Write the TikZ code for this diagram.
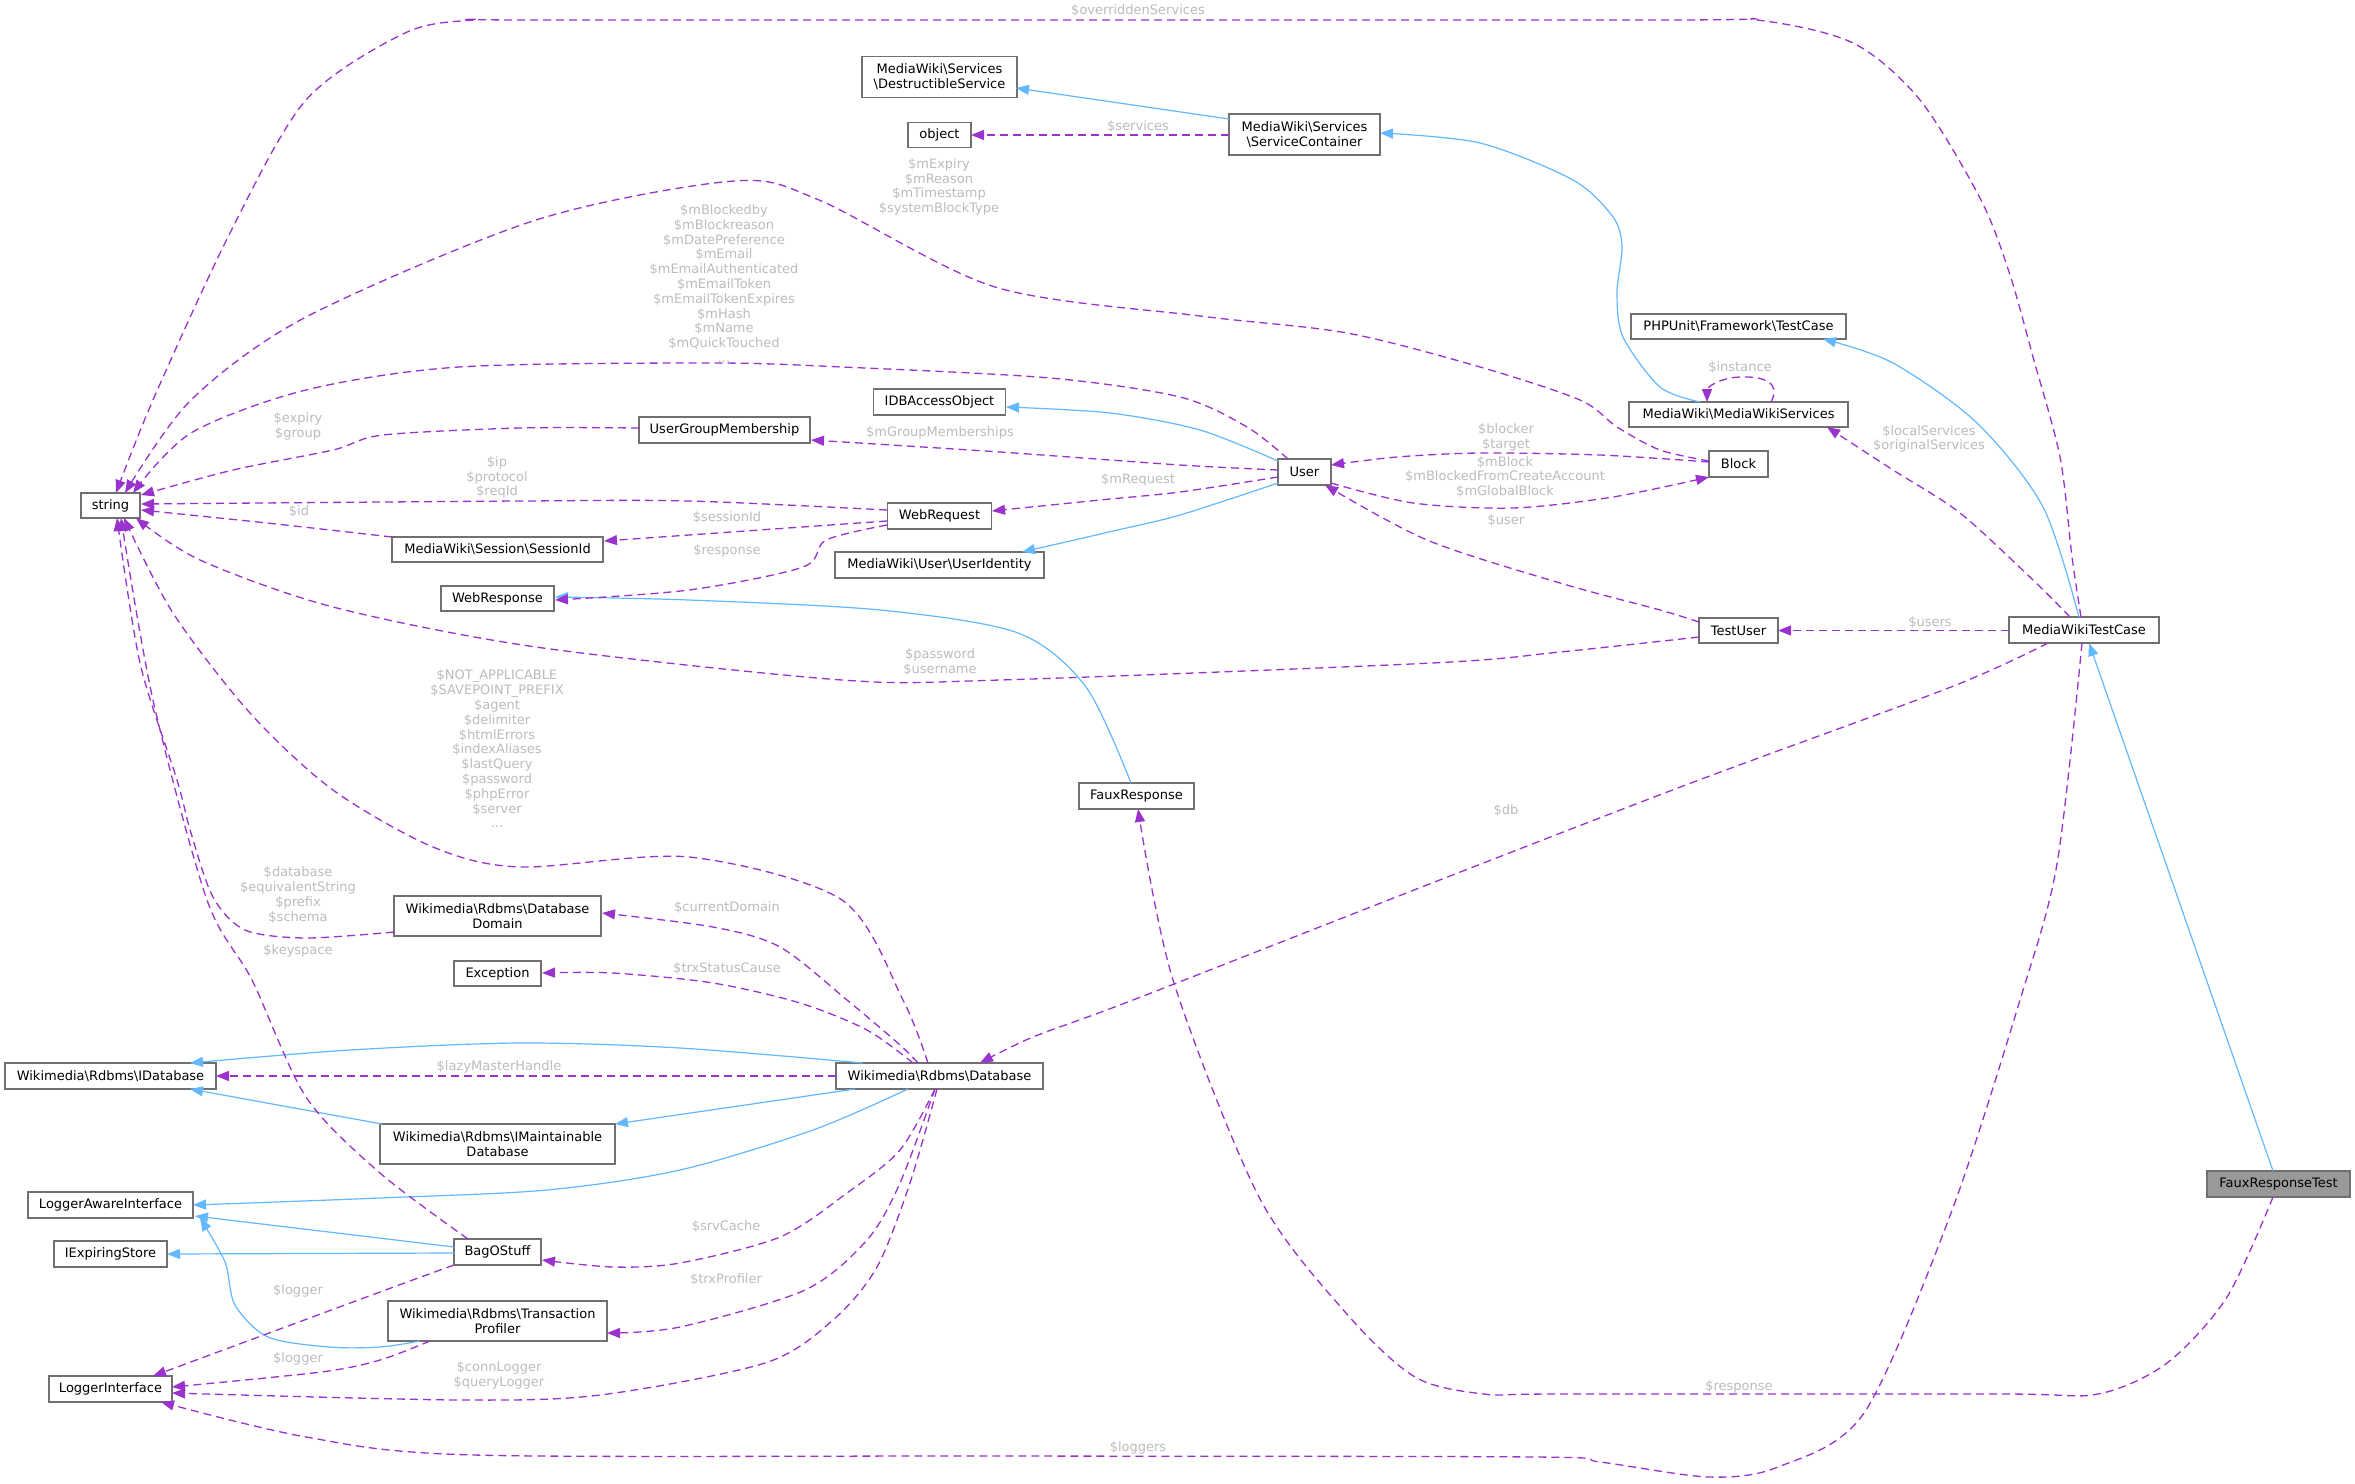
\documentclass[tikz,border=0pt]{standalone}
\usepackage{fontspec}
\setmainfont{DejaVu Sans}
\usetikzlibrary{arrows.meta,calc}
\definecolor{inhblue}{HTML}{63B8FF}
\definecolor{usepurple}{HTML}{9A32CD}
\definecolor{lblgray}{HTML}{BCBCBC}
\definecolor{nodeborder}{HTML}{707070}
\definecolor{frtfill}{HTML}{999999}
\newcommand{\nfont}{\fontsize{13}{14.8}\selectfont}
\newcommand{\bsl}{\textbackslash{}}
\begin{document}
\begin{tikzpicture}[x=1pt,y=-1pt,
  cls/.style={draw=nodeborder, line width=1.3pt, fill=white, inner sep=1pt, align=center, font=\nfont, text=black},
  inh/.style={draw=inhblue, line width=1.2pt, -{Triangle[length=13pt,width=10pt]}},
  usg/.style={draw=usepurple, line width=1.3pt, dash pattern=on 8pt off 5pt, -{Triangle[length=13pt,width=10pt]}},
  lbl/.style={text=lblgray, font=\nfont, align=center, inner sep=0pt}]
\useasboundingbox[fill=white] (0,0) rectangle (2355,1483);

% nodes
\node[cls,minimum width=59pt,minimum height=25pt] (string) at (110.5,505.5) {string};
\node[cls,minimum width=155pt,minimum height=41pt] (destr) at (939.5,77) {MediaWiki\bsl Services\\\bsl DestructibleService};
\node[cls,minimum width=63pt,minimum height=25pt] (object) at (939.5,135) {object};
\node[cls,minimum width=151pt,minimum height=41pt] (sc) at (1304.5,134.5) {MediaWiki\bsl Services\\\bsl ServiceContainer};
\node[cls,minimum width=215pt,minimum height=25pt] (phpunit) at (1738.5,326.5) {PHPUnit\bsl Framework\bsl TestCase};
\node[cls,minimum width=219pt,minimum height=25pt] (mws) at (1738.5,414.5) {MediaWiki\bsl MediaWikiServices};
\node[cls,minimum width=59pt,minimum height=26pt] (block) at (1738.5,464) {Block};
\node[cls,minimum width=53pt,minimum height=26pt] (user) at (1304.5,472) {User};
\node[cls,minimum width=132pt,minimum height=26pt] (idb) at (939.5,402) {IDBAccessObject};
\node[cls,minimum width=171pt,minimum height=26pt] (ugm) at (724.5,430) {UserGroupMembership};
\node[cls,minimum width=104pt,minimum height=26pt] (webreq) at (939.5,516) {WebRequest};
\node[cls,minimum width=211pt,minimum height=25pt] (sessid) at (497.5,549.5) {MediaWiki\bsl Session\bsl SessionId};
\node[cls,minimum width=209pt,minimum height=26pt] (uident) at (939.5,565) {MediaWiki\bsl User\bsl UserIdentity};
\node[cls,minimum width=113pt,minimum height=25pt] (webresp) at (497.5,598.5) {WebResponse};
\node[cls,minimum width=79pt,minimum height=25pt] (testuser) at (1738.5,630.5) {TestUser};
\node[cls,minimum width=150pt,minimum height=26pt] (mwtc) at (2084,630) {MediaWikiTestCase};
\node[cls,minimum width=115pt,minimum height=26pt] (fauxresp) at (1136.5,796) {FauxResponse};
\node[cls,minimum width=207pt,minimum height=40pt] (dbdomain) at (497.5,916) {Wikimedia\bsl Rdbms\bsl Database\\Domain};
\node[cls,minimum width=87pt,minimum height=25pt] (exception) at (497.5,973.5) {Exception};
\node[cls,minimum width=211pt,minimum height=26pt] (idatabase) at (110.5,1076) {Wikimedia\bsl Rdbms\bsl IDatabase};
\node[cls,minimum width=207pt,minimum height=26pt] (database) at (939.5,1076) {Wikimedia\bsl Rdbms\bsl Database};
\node[cls,minimum width=235pt,minimum height=40pt] (imaint) at (497.5,1144) {Wikimedia\bsl Rdbms\bsl IMaintainable\\Database};
\node[cls,minimum width=165pt,minimum height=26pt] (lai) at (110.5,1205) {LoggerAwareInterface};
\node[cls,minimum width=113pt,minimum height=26pt] (iexp) at (110.5,1254) {IExpiringStore};
\node[cls,minimum width=87pt,minimum height=26pt] (bag) at (497.5,1252) {BagOStuff};
\node[cls,minimum width=219pt,minimum height=40pt] (tp) at (497.5,1321) {Wikimedia\bsl Rdbms\bsl Transaction\\Profiler};
\node[cls,minimum width=123pt,minimum height=26pt] (logi) at (110.5,1389) {LoggerInterface};
\node[cls,fill=frtfill,minimum width=143pt,minimum height=26pt] (frt) at (2278.5,1184) {FauxResponseTest};

% inheritance
\draw[inh] ($(sc)+(-75.5,-15.5)$) -- ($(destr)+(76.5,11)$);
\draw[inh] plot[smooth] coordinates {($(mws)+(-38.5,-12.5)$) (1660,387) (1623,337) (1617,293) (1622,247) (1613,217) (1573,180) (1480,143) ($(sc)+(75.5,-1.5)$)};
\draw[inh] plot[smooth] coordinates {($(mwtc)+(-5,-13)$) (2043,507) (1977,423) (1893,363) ($(phpunit)+(84.5,12.5)$)};
\draw[inh] plot[smooth] coordinates {($(user)+(-26.5,-11)$) (1200,430) (1110,413) ($(idb)+(66.5,5)$)};
\draw[inh] plot[smooth] coordinates {($(user)+(-26.5,11)$) (1180,515) (1109,532) ($(uident)+(82.5,-13)$)};
\draw[inh] plot[smooth] coordinates {($(fauxresp)+(-5.5,-13)$) (1086,687) (1018,633) (880,610) (689,600) ($(webresp)+(57.5,-1.5)$)};
\draw[inh] ($(frt)+(-5.5,-13)$) -- ($(mwtc)+(5,13)$);
\draw[inh] plot[smooth] coordinates {($(database)+(-76.5,-13)$) (680,1048) (520,1043) (350,1050) ($(idatabase)+(79.5,-13)$)};
\draw[inh] ($(imaint)+(-115.5,-20)$) -- ($(idatabase)+(79.5,13)$);
\draw[inh] ($(database)+(-84.5,13)$) -- ($(imaint)+(117.5,-20)$);
\draw[inh] plot[smooth] coordinates {($(database)+(-31.5,13)$) (813,1130) (680,1170) (547,1190) (380,1198) ($(lai)+(82.5,0)$)};
\draw[inh] ($(bag)+(-43.5,-5)$) -- ($(lai)+(84.5,11)$);
\draw[inh] ($(bag)+(-43.5,1)$) -- ($(iexp)+(56.5,0)$);
\draw[inh] plot[smooth] coordinates {($(tp)+(-77.5,20)$) (380,1347) (329,1347) (268,1337) (235,1305) (225,1262) ($(lai)+(89.5,13)$)};

% usage
\draw[usg] plot[smooth] coordinates {($(mwtc)+(-3,-13)$) (2072,557) (2060,457) (2033,357) (2010,275) (1981,200) (1920,100) (1853,43) (1757,20) (1650,20) (560,20) (474,20) (405,33) (306,100) (230,233) (153,400) ($(string)+(5.5,-12.5)$)};
\draw[usg] ($(sc)+(-75.5,0.5)$) -- ($(object)+(31.5,0)$);
\draw[usg] plot[smooth] coordinates {($(block)+(-29.5,-3)$) (1660,450) (1617,427) (1580,400) (1480,367) (1347,333) (1200,316) (995,287) (819,200) (734,181) (536,220) (306,317) (191,400) ($(string)+(14.5,-12.5)$)};
\draw[usg] plot[smooth] coordinates {($(user)+(-16.5,-13)$) (1247,427) (1180,397) (1050,378) (842,367) (711,363) (459,367) (306,390) (191,433) ($(string)+(22.5,-12.5)$)};
\draw[usg] plot[smooth] coordinates {($(ugm)+(-85.5,-2)$) (520,428) (383,435) (333,450) (233,470) ($(string)+(30.5,-10.5)$)};
\draw[usg] plot[smooth] coordinates {($(user)+(-26.5,-2)$) (1180,465) (1000,452) ($(ugm)+(86.5,10)$)};
\draw[usg] plot[smooth] coordinates {($(user)+(-26.5,5)$) (1180,492) (1100,500) ($(webreq)+(52.5,-5)$)};
\draw[usg] plot[smooth] coordinates {($(webreq)+(-52.5,-6)$) (689,501) (520,501) ($(string)+(30.5,-1.5)$)};
\draw[usg] plot[smooth] coordinates {($(sessid)+(-105.5,-12.5)$) (267,523) ($(string)+(30.5,4.5)$)};
\draw[usg] ($(webreq)+(-52.5,5)$) -- ($(sessid)+(106.5,-8.5)$);
\draw[usg] plot[smooth] coordinates {($(webreq)+(-52.5,9)$) (826,540) (803,567) (689,590) ($(webresp)+(57.5,1.5)$)};
\draw[usg] plot[smooth] coordinates {($(block)+(-29.5,-2)$) (1600,455) (1480,453) (1397,457) ($(user)+(26.5,-7)$)};
\draw[usg] plot[smooth] coordinates {($(user)+(26.5,11)$) (1413,503) (1513,508) (1613,497) ($(block)+(-29.5,13)$)};
\draw[usg] plot[smooth] coordinates {($(testuser)+(-39.5,-8.5)$) (1660,610) (1560,583) (1427,540) ($(user)+(20.5,13)$)};
\draw[usg] plot[smooth] coordinates {($(testuser)+(-39.5,6.5)$) (1560,652) (1432,663) (1000,680) (842,680) (536,647) (333,607) (200,560) ($(string)+(25.5,12.5)$)};
\draw[usg] ($(mwtc)+(-75,0.5)$) -- ($(testuser)+(39.5,0)$);
\draw[usg] plot[smooth] coordinates {($(mwtc)+(-14,-13)$) (2033,580) (1960,513) (1893,470) ($(mws)+(88.5,12.5)$)};
\draw[usg] ($(mws)+(32.5,-12.5)$) .. controls (1782,382) and (1762,376) .. (1740,377) .. controls (1718,378) and (1707,388) .. ($(mws)+(-31.5,-12.5)$);
\draw[usg] plot[smooth] coordinates {($(mwtc)+(-36,13)$) (1951,687) (1691,783) (1432,883) (1133,1000) (1033,1037) ($(database)+(40.5,-13)$)};
\draw[usg] plot[smooth] coordinates {($(mwtc)+(-2,13)$) (2057,864) (2020,1000) (1951,1213) (1864,1413) (1778,1467) (1709,1477) (1600,1462) (1536,1457) (1000,1456) (474,1455) (306,1437) ($(logi)+(50.5,13)$)};
\draw[usg] plot[smooth] coordinates {($(frt)+(-5.5,13)$) (2227,1297) (2167,1363) (2098,1394) (2000,1394) (1560,1394) (1484,1394) (1415,1377) (1346,1313) (1259,1197) (1173,980) ($(fauxresp)+(1.5,13)$)};
\draw[usg] plot[smooth] coordinates {($(database)+(-11.5,-13)$) (903,1000) (842,900) (689,857) (520,867) (433,847) (333,790) (250,713) (173,613) ($(string)+(13.5,12.5)$)};
\draw[usg] plot[smooth] coordinates {($(database)+(-21.5,-13)$) (900,1045) (847,1000) (780,947) (713,927) ($(dbdomain)+(104.5,-3)$)};
\draw[usg] plot[smooth] coordinates {($(database)+(-26.5,-13)$) (867,1030) (800,1003) (713,983) (613,973) ($(exception)+(44.5,-0.5)$)};
\draw[usg] plot[smooth] coordinates {($(dbdomain)+(-103.5,16)$) (306,938) (245,930) (213,897) (191,833) (177,780) (140,663) ($(string)+(6.5,12.5)$)};
\draw[usg] plot[smooth] coordinates {($(bag)+(-29.5,-13)$) (380,1173) (306,1097) (252,980) (207,900) (153,700) ($(string)+(10.5,12.5)$)};
\draw[usg] ($(database)+(-103.5,0)$) -- ($(idatabase)+(105.5,0)$);
\draw[usg] plot[smooth] coordinates {($(database)+(-4.5,13)$) (900,1150) (847,1193) (780,1237) (680,1263) (613,1267) ($(bag)+(44.5,8)$)};
\draw[usg] plot[smooth] coordinates {($(database)+(-4.5,13)$) (900,1183) (867,1240) (805,1290) (680,1327) ($(tp)+(109.5,12)$)};
\draw[usg] plot[smooth] coordinates {($(database)+(-2.5,13)$) (910,1183) (877,1267) (833,1320) (765,1363) (600,1395) (459,1400) ($(logi)+(61.5,4)$)};
\draw[usg] plot[smooth] coordinates {($(bag)+(-43.5,13)$) (380,1292) ($(logi)+(42.5,-13)$)};
\draw[usg] plot[smooth] coordinates {($(tp)+(-67.5,20)$) (380,1360) (321,1372) ($(logi)+(61.5,-2)$)};

% labels
\node[lbl] (l01) at (1138,11) {\$overriddenServices};
\node[lbl] (l02) at (1138,127) {\$services};
\node[lbl] (l03) at (939,187) {\$mExpiry\\\$mReason\\\$mTimestamp\\\$systemBlockType};
\node[lbl] (l04) at (724,283.5) {\$mBlockedby\\\$mBlockreason\\\$mDatePreference\\\$mEmail\\\$mEmailAuthenticated\\\$mEmailToken\\\$mEmailTokenExpires\\\$mHash\\\$mName\\\$mQuickTouched\\...};
\node[lbl] (l05) at (298,426.5) {\$expiry\\\$group};
\node[lbl] (l06) at (940,433) {\$mGroupMemberships};
\node[lbl] (l07) at (1138,480) {\$mRequest};
\node[lbl] (l08) at (497,477.5) {\$ip\\\$protocol\\\$reqId};
\node[lbl] (l09) at (299,512) {\$id};
\node[lbl] (l10) at (727,518) {\$sessionId};
\node[lbl] (l11) at (727,551) {\$response};
\node[lbl] (l12) at (1506,437.5) {\$blocker\\\$target};
\node[lbl] (l13) at (1505,477) {\$mBlock\\\$mBlockedFromCreateAccount\\\$mGlobalBlock};
\node[lbl] (l14) at (1506,521) {\$user};
\node[lbl] (l15) at (940,662) {\$password\\\$username};
\node[lbl] (l16) at (1930,623) {\$users};
\node[lbl] (l17) at (1929,439) {\$localServices\\\$originalServices};
\node[lbl] (l18) at (1740,368) {\$instance};
\node[lbl] (l19) at (1506,811) {\$db};
\node[lbl] (l20) at (1138,1448) {\$loggers};
\node[lbl] (l21) at (1739,1387) {\$response};
\node[lbl] (l22) at (497,749) {\$NOT\_APPLICABLE\\\$SAVEPOINT\_PREFIX\\\$agent\\\$delimiter\\\$htmlErrors\\\$indexAliases\\\$lastQuery\\\$password\\\$phpError\\\$server\\...};
\node[lbl] (l23) at (727,908) {\$currentDomain};
\node[lbl] (l24) at (727,969) {\$trxStatusCause};
\node[lbl] (l25) at (298,895) {\$database\\\$equivalentString\\\$prefix\\\$schema};
\node[lbl] (l26) at (298,951) {\$keyspace};
\node[lbl] (l27) at (499,1067) {\$lazyMasterHandle};
\node[lbl] (l28) at (726,1226) {\$srvCache};
\node[lbl] (l29) at (726,1279) {\$trxProfiler};
\node[lbl] (l30) at (499,1375) {\$connLogger\\\$queryLogger};
\node[lbl] (l31) at (298,1291) {\$logger};
\node[lbl] (l32) at (298,1359) {\$logger};
\end{tikzpicture}
\end{document}
